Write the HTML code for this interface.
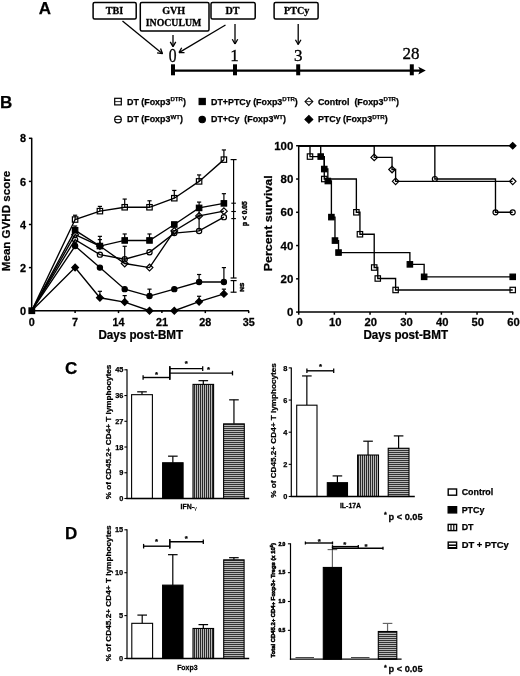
<!DOCTYPE html>
<html lang="en">
<head>
<meta charset="utf-8">
<title>Figure</title>
<style>
html,body{margin:0;padding:0;background:#fff;}
body{width:520px;height:676px;overflow:hidden;}
svg{display:block;}
text{fill:#000;}
.ss{font-family:"Liberation Sans",Arial,Helvetica,sans-serif;}
.sr{font-family:"Liberation Serif","Times New Roman",serif;}
</style>
</head>
<body>
<svg width="520" height="676" viewBox="0 0 520 676">
<defs>
<pattern id="vs" width="2" height="4" patternUnits="userSpaceOnUse"><rect width="2" height="4" fill="#b8b8b8"/><rect x="0" y="0" width="1" height="4" fill="#2a2a2a"/></pattern>
<pattern id="hs" width="4" height="2" patternUnits="userSpaceOnUse"><rect width="4" height="2" fill="#b6b6b6"/><rect x="0" y="0" width="4" height="1" fill="#333"/></pattern>
</defs>
<rect width="520" height="676" fill="#fff"/>
<text class="ss" transform="translate(38.7 13.7)" font-size="17" font-weight="bold" text-anchor="start" stroke="#000" stroke-width="0.25">A</text>
<text class="ss" transform="translate(0 108)" font-size="17" font-weight="bold" text-anchor="start" stroke="#000" stroke-width="0.25">B</text>
<text class="ss" transform="translate(65 374)" font-size="17" font-weight="bold" text-anchor="start" stroke="#000" stroke-width="0.25">C</text>
<text class="ss" transform="translate(65 539)" font-size="17" font-weight="bold" text-anchor="start" stroke="#000" stroke-width="0.25">D</text>
<rect x="93.1" y="2.6" width="43.099999999999994" height="16.5" rx="1.5" ry="1.5" fill="#fff" stroke="#000" stroke-width="1.5"/>
<rect x="140.3" y="2.6" width="68.69999999999999" height="28.4" rx="1.5" ry="1.5" fill="#fff" stroke="#000" stroke-width="1.5"/>
<rect x="211" y="2.6" width="44.19999999999999" height="16.5" rx="1.5" ry="1.5" fill="#fff" stroke="#000" stroke-width="1.5"/>
<rect x="274.1" y="2.6" width="44.0" height="16.5" rx="1.5" ry="1.5" fill="#fff" stroke="#000" stroke-width="1.5"/>
<text class="sr" transform="translate(114.5 14.2)" font-size="10.1" font-weight="bold" text-anchor="middle" stroke="#000" stroke-width="0.3">TBI</text>
<text class="sr" transform="translate(173.7 13.8)" font-size="10.1" font-weight="bold" text-anchor="middle" stroke="#000" stroke-width="0.3">GVH</text>
<text class="sr" transform="translate(173.5 26.3)" font-size="9.8" font-weight="bold" text-anchor="middle" stroke="#000" stroke-width="0.3">INOCULUM</text>
<text class="sr" transform="translate(232.5 14.2)" font-size="10.1" font-weight="bold" text-anchor="middle" stroke="#000" stroke-width="0.3">DT</text>
<text class="sr" transform="translate(296.7 14.2)" font-size="10.1" font-weight="bold" text-anchor="middle" stroke="#000" stroke-width="0.3">PTCy</text>
<line x1="122.50" y1="21.00" x2="162.50" y2="53.70" stroke="#000" stroke-width="1.3"/>
<line x1="162.50" y1="53.70" x2="157.07" y2="52.81" stroke="#000" stroke-width="1.3"/>
<line x1="162.50" y1="53.70" x2="160.55" y2="48.56" stroke="#000" stroke-width="1.3"/>
<line x1="173.00" y1="35.00" x2="173.00" y2="46.60" stroke="#000" stroke-width="1.3"/>
<line x1="173.00" y1="46.60" x2="170.25" y2="41.84" stroke="#000" stroke-width="1.3"/>
<line x1="173.00" y1="46.60" x2="175.75" y2="41.84" stroke="#000" stroke-width="1.3"/>
<line x1="225.50" y1="25.00" x2="179.00" y2="52.60" stroke="#000" stroke-width="1.3"/>
<line x1="179.00" y1="52.60" x2="181.69" y2="47.80" stroke="#000" stroke-width="1.3"/>
<line x1="179.00" y1="52.60" x2="184.50" y2="52.53" stroke="#000" stroke-width="1.3"/>
<line x1="235.00" y1="24.00" x2="235.00" y2="44.00" stroke="#000" stroke-width="1.3"/>
<line x1="235.00" y1="44.00" x2="232.25" y2="39.24" stroke="#000" stroke-width="1.3"/>
<line x1="235.00" y1="44.00" x2="237.75" y2="39.24" stroke="#000" stroke-width="1.3"/>
<line x1="298.20" y1="24.00" x2="298.20" y2="44.50" stroke="#000" stroke-width="1.3"/>
<line x1="298.20" y1="44.50" x2="295.45" y2="39.74" stroke="#000" stroke-width="1.3"/>
<line x1="298.20" y1="44.50" x2="300.95" y2="39.74" stroke="#000" stroke-width="1.3"/>
<text class="sr" transform="translate(172.6 61.5) scale(0.8 1)" font-size="19.5" font-weight="normal" text-anchor="middle" stroke="#000" stroke-width="0.35">0</text>
<text class="sr" transform="translate(234.6 61)" font-size="17" font-weight="normal" text-anchor="middle" stroke="#000" stroke-width="0.35">1</text>
<text class="sr" transform="translate(298.2 61)" font-size="17" font-weight="normal" text-anchor="middle" stroke="#000" stroke-width="0.35">3</text>
<text class="sr" transform="translate(411 59)" font-size="17" font-weight="normal" text-anchor="middle" stroke="#000" stroke-width="0.35">28</text>
<line x1="173.00" y1="70.60" x2="421.00" y2="70.60" stroke="#000" stroke-width="2.3"/>
<rect x="171.00" y="64.3" width="4" height="11" fill="#000"/>
<rect x="233.00" y="64.3" width="4" height="11" fill="#000"/>
<rect x="296.20" y="64.3" width="4" height="11" fill="#000"/>
<rect x="409.80" y="64.3" width="4" height="11" fill="#000"/>
<polygon points="425.8,70.6 418.3,66.8 420,70.6 418.3,74.4" fill="#000"/>
<rect x="114.70" y="98.30" width="6.60" height="6.60" fill="#fff" stroke="#000" stroke-width="1.2"/>
<line x1="114.70" y1="101.60" x2="121.30" y2="101.60" stroke="#000" stroke-width="0.8"/>
<text class="ss" transform="translate(127 104.7)" font-size="8.9" font-weight="bold" text-anchor="start" stroke="#000" stroke-width="0.25">DT (Foxp3<tspan font-size="6.1" dy="-3.3">DTR</tspan><tspan dy="3.3">)</tspan></text>
<rect x="199.10" y="98.40" width="6.20" height="6.20" fill="#000" stroke="#000" stroke-width="1.1"/>
<text class="ss" transform="translate(211 104.7)" font-size="8.9" font-weight="bold" text-anchor="start" stroke="#000" stroke-width="0.25">DT+PTCy (Foxp3<tspan font-size="6.1" dy="-3.3">DTR</tspan><tspan dy="3.3">)</tspan></text>
<polygon points="305.00,101.60 308.90,97.70 312.80,101.60 308.90,105.50" fill="#fff" stroke="#000" stroke-width="1.1"/>
<line x1="305.00" y1="101.60" x2="312.80" y2="101.60" stroke="#000" stroke-width="0.8"/>
<text class="ss" transform="translate(317.9 104.7)" font-size="8.9" font-weight="bold" text-anchor="start" stroke="#000" stroke-width="0.25">Control&#160;&#160;(Foxp3<tspan font-size="6.1" dy="-3.3">DTR</tspan><tspan dy="3.3">)</tspan></text>
<circle cx="118.00" cy="119.50" r="3.30" fill="#fff" stroke="#000" stroke-width="1.2"/>
<line x1="114.70" y1="119.50" x2="121.30" y2="119.50" stroke="#000" stroke-width="0.8"/>
<text class="ss" transform="translate(127 122.3)" font-size="8.9" font-weight="bold" text-anchor="start" stroke="#000" stroke-width="0.25">DT (Foxp3<tspan font-size="6.1" dy="-3.3">WT</tspan><tspan dy="3.3">)</tspan></text>
<circle cx="202.20" cy="119.60" r="3.20" fill="#000" stroke="#000" stroke-width="1.1"/>
<text class="ss" transform="translate(211 122.3)" font-size="8.9" font-weight="bold" text-anchor="start" stroke="#000" stroke-width="0.25">DT+Cy&#160;&#160;(Foxp3<tspan font-size="6.1" dy="-3.3">WT</tspan><tspan dy="3.3">)</tspan></text>
<polygon points="305.00,119.40 308.90,115.50 312.80,119.40 308.90,123.30" fill="#000" stroke="#000" stroke-width="1.1"/>
<text class="ss" transform="translate(317.9 122.3)" font-size="8.9" font-weight="bold" text-anchor="start" stroke="#000" stroke-width="0.25">PTCy (Foxp3<tspan font-size="6.1" dy="-3.3">DTR</tspan><tspan dy="3.3">)</tspan></text>
<line x1="31.70" y1="137.80" x2="31.70" y2="311.40" stroke="#000" stroke-width="1.5"/>
<line x1="31.00" y1="310.70" x2="249.00" y2="310.70" stroke="#000" stroke-width="1.5"/>
<line x1="28.90" y1="310.70" x2="31.70" y2="310.70" stroke="#000" stroke-width="1.5"/>
<text class="ss" transform="translate(26.1 314.8) scale(1.05 1)" font-size="10.4" font-weight="bold" text-anchor="end" stroke="#000" stroke-width="0.25">0</text>
<line x1="28.90" y1="267.60" x2="31.70" y2="267.60" stroke="#000" stroke-width="1.5"/>
<text class="ss" transform="translate(26.1 271.7) scale(1.05 1)" font-size="10.4" font-weight="bold" text-anchor="end" stroke="#000" stroke-width="0.25">2</text>
<line x1="28.90" y1="224.50" x2="31.70" y2="224.50" stroke="#000" stroke-width="1.5"/>
<text class="ss" transform="translate(26.1 228.6) scale(1.05 1)" font-size="10.4" font-weight="bold" text-anchor="end" stroke="#000" stroke-width="0.25">4</text>
<line x1="28.90" y1="181.40" x2="31.70" y2="181.40" stroke="#000" stroke-width="1.5"/>
<text class="ss" transform="translate(26.1 185.49999999999997) scale(1.05 1)" font-size="10.4" font-weight="bold" text-anchor="end" stroke="#000" stroke-width="0.25">6</text>
<line x1="28.90" y1="138.30" x2="31.70" y2="138.30" stroke="#000" stroke-width="1.5"/>
<text class="ss" transform="translate(26.1 142.39999999999998) scale(1.05 1)" font-size="10.4" font-weight="bold" text-anchor="end" stroke="#000" stroke-width="0.25">8</text>
<line x1="31.70" y1="310.70" x2="31.70" y2="313.10" stroke="#000" stroke-width="1.5"/>
<text class="ss" transform="translate(31.7 326.3) scale(1.04 1)" font-size="10.4" font-weight="bold" text-anchor="middle" stroke="#000" stroke-width="0.25">0</text>
<line x1="75.10" y1="310.70" x2="75.10" y2="313.10" stroke="#000" stroke-width="1.5"/>
<text class="ss" transform="translate(75.1 326.3) scale(1.04 1)" font-size="10.4" font-weight="bold" text-anchor="middle" stroke="#000" stroke-width="0.25">7</text>
<line x1="118.50" y1="310.70" x2="118.50" y2="313.10" stroke="#000" stroke-width="1.5"/>
<text class="ss" transform="translate(118.5 326.3) scale(1.04 1)" font-size="10.4" font-weight="bold" text-anchor="middle" stroke="#000" stroke-width="0.25">14</text>
<line x1="161.90" y1="310.70" x2="161.90" y2="313.10" stroke="#000" stroke-width="1.5"/>
<text class="ss" transform="translate(161.9 326.3) scale(1.04 1)" font-size="10.4" font-weight="bold" text-anchor="middle" stroke="#000" stroke-width="0.25">21</text>
<line x1="205.30" y1="310.70" x2="205.30" y2="313.10" stroke="#000" stroke-width="1.5"/>
<text class="ss" transform="translate(205.29999999999998 326.3) scale(1.04 1)" font-size="10.4" font-weight="bold" text-anchor="middle" stroke="#000" stroke-width="0.25">28</text>
<line x1="248.70" y1="310.70" x2="248.70" y2="313.10" stroke="#000" stroke-width="1.5"/>
<text class="ss" transform="translate(248.7 326.3) scale(1.04 1)" font-size="10.4" font-weight="bold" text-anchor="middle" stroke="#000" stroke-width="0.25">35</text>
<text class="ss" transform="translate(140.8 338.7) scale(0.97 1)" font-size="12" font-weight="bold" text-anchor="middle" stroke="#000" stroke-width="0.25">Days post-BMT</text>
<text class="ss" transform="translate(10 221) rotate(-90) scale(1.025 1)" font-size="11.3" font-weight="bold" text-anchor="middle" stroke="#000" stroke-width="0.25">Mean GVHD score</text>
<polyline points="31.70,310.70 75.10,267.60 99.90,297.77 124.70,302.08 149.50,310.70 174.30,310.70 199.10,301.65 223.90,293.89" fill="none" stroke="#000" stroke-width="1.35"/>
<polyline points="31.70,310.70 75.10,246.05 99.90,267.60 124.70,289.15 149.50,296.05 174.30,289.15 199.10,282.04 223.90,282.04" fill="none" stroke="#000" stroke-width="1.35"/>
<polyline points="31.70,310.70 75.10,239.58 99.90,254.67 124.70,259.20 149.50,252.30 174.30,233.12 199.10,230.96 223.90,217.17" fill="none" stroke="#000" stroke-width="1.35"/>
<polyline points="31.70,310.70 75.10,234.63 99.90,246.05 124.70,263.51 149.50,267.60 174.30,230.96 199.10,215.88 223.90,211.14" fill="none" stroke="#000" stroke-width="1.35"/>
<polyline points="31.70,310.70 75.10,230.32 99.90,246.05 124.70,240.45 149.50,240.45 174.30,224.50 199.10,207.91 223.90,203.38" fill="none" stroke="#000" stroke-width="1.35"/>
<polyline points="31.70,310.70 75.10,219.54 99.90,211.14 124.70,207.26 149.50,207.26 174.30,198.21 199.10,181.40 223.90,159.63" fill="none" stroke="#000" stroke-width="1.35"/>
<line x1="99.90" y1="297.77" x2="99.90" y2="291.31" stroke="#000" stroke-width="1.2"/>
<line x1="97.80" y1="291.31" x2="102.00" y2="291.31" stroke="#000" stroke-width="1.2"/>
<line x1="124.70" y1="302.08" x2="124.70" y2="295.62" stroke="#000" stroke-width="1.2"/>
<line x1="122.60" y1="295.62" x2="126.80" y2="295.62" stroke="#000" stroke-width="1.2"/>
<line x1="199.10" y1="301.65" x2="199.10" y2="296.26" stroke="#000" stroke-width="1.2"/>
<line x1="197.00" y1="296.26" x2="201.20" y2="296.26" stroke="#000" stroke-width="1.2"/>
<line x1="223.90" y1="293.89" x2="223.90" y2="289.15" stroke="#000" stroke-width="1.2"/>
<line x1="221.80" y1="289.15" x2="226.00" y2="289.15" stroke="#000" stroke-width="1.2"/>
<polygon points="71.72,267.60 75.10,264.22 78.48,267.60 75.10,270.98" fill="#000" stroke="#000" stroke-width="1.2"/>
<polygon points="96.52,297.77 99.90,294.39 103.28,297.77 99.90,301.15" fill="#000" stroke="#000" stroke-width="1.2"/>
<polygon points="121.32,302.08 124.70,298.70 128.08,302.08 124.70,305.46" fill="#000" stroke="#000" stroke-width="1.2"/>
<polygon points="146.12,310.70 149.50,307.32 152.88,310.70 149.50,314.08" fill="#000" stroke="#000" stroke-width="1.2"/>
<polygon points="170.92,310.70 174.30,307.32 177.68,310.70 174.30,314.08" fill="#000" stroke="#000" stroke-width="1.2"/>
<polygon points="195.72,301.65 199.10,298.27 202.48,301.65 199.10,305.03" fill="#000" stroke="#000" stroke-width="1.2"/>
<polygon points="220.52,293.89 223.90,290.51 227.28,293.89 223.90,297.27" fill="#000" stroke="#000" stroke-width="1.2"/>
<line x1="75.10" y1="246.05" x2="75.10" y2="242.82" stroke="#000" stroke-width="1.2"/>
<line x1="73.00" y1="242.82" x2="77.20" y2="242.82" stroke="#000" stroke-width="1.2"/>
<line x1="149.50" y1="296.05" x2="149.50" y2="289.15" stroke="#000" stroke-width="1.2"/>
<line x1="147.40" y1="289.15" x2="151.60" y2="289.15" stroke="#000" stroke-width="1.2"/>
<line x1="199.10" y1="282.04" x2="199.10" y2="274.50" stroke="#000" stroke-width="1.2"/>
<line x1="197.00" y1="274.50" x2="201.20" y2="274.50" stroke="#000" stroke-width="1.2"/>
<line x1="223.90" y1="282.04" x2="223.90" y2="267.60" stroke="#000" stroke-width="1.2"/>
<line x1="221.80" y1="267.60" x2="226.00" y2="267.60" stroke="#000" stroke-width="1.2"/>
<circle cx="75.10" cy="246.05" r="2.60" fill="#000" stroke="#000" stroke-width="1.2"/>
<circle cx="99.90" cy="267.60" r="2.60" fill="#000" stroke="#000" stroke-width="1.2"/>
<circle cx="124.70" cy="289.15" r="2.60" fill="#000" stroke="#000" stroke-width="1.2"/>
<circle cx="149.50" cy="296.05" r="2.60" fill="#000" stroke="#000" stroke-width="1.2"/>
<circle cx="174.30" cy="289.15" r="2.60" fill="#000" stroke="#000" stroke-width="1.2"/>
<circle cx="199.10" cy="282.04" r="2.60" fill="#000" stroke="#000" stroke-width="1.2"/>
<circle cx="223.90" cy="282.04" r="2.60" fill="#000" stroke="#000" stroke-width="1.2"/>
<line x1="124.70" y1="259.20" x2="124.70" y2="246.27" stroke="#000" stroke-width="1.2"/>
<line x1="122.60" y1="246.27" x2="126.80" y2="246.27" stroke="#000" stroke-width="1.2"/>
<line x1="199.10" y1="230.96" x2="199.10" y2="215.88" stroke="#000" stroke-width="1.2"/>
<line x1="197.00" y1="215.88" x2="201.20" y2="215.88" stroke="#000" stroke-width="1.2"/>
<circle cx="75.10" cy="239.58" r="2.60" fill="none" stroke="#000" stroke-width="1.2"/>
<circle cx="99.90" cy="254.67" r="2.60" fill="none" stroke="#000" stroke-width="1.2"/>
<circle cx="124.70" cy="259.20" r="2.60" fill="none" stroke="#000" stroke-width="1.2"/>
<circle cx="149.50" cy="252.30" r="2.60" fill="none" stroke="#000" stroke-width="1.2"/>
<circle cx="174.30" cy="233.12" r="2.60" fill="none" stroke="#000" stroke-width="1.2"/>
<circle cx="199.10" cy="230.96" r="2.60" fill="none" stroke="#000" stroke-width="1.2"/>
<circle cx="223.90" cy="217.17" r="2.60" fill="none" stroke="#000" stroke-width="1.2"/>
<line x1="99.90" y1="246.05" x2="99.90" y2="239.58" stroke="#000" stroke-width="1.2"/>
<line x1="97.80" y1="239.58" x2="102.00" y2="239.58" stroke="#000" stroke-width="1.2"/>
<line x1="199.10" y1="215.88" x2="199.10" y2="209.41" stroke="#000" stroke-width="1.2"/>
<line x1="197.00" y1="209.41" x2="201.20" y2="209.41" stroke="#000" stroke-width="1.2"/>
<polygon points="71.72,234.63 75.10,231.25 78.48,234.63 75.10,238.01" fill="none" stroke="#000" stroke-width="1.2"/>
<polygon points="96.52,246.05 99.90,242.67 103.28,246.05 99.90,249.43" fill="none" stroke="#000" stroke-width="1.2"/>
<polygon points="121.32,263.51 124.70,260.13 128.08,263.51 124.70,266.89" fill="none" stroke="#000" stroke-width="1.2"/>
<polygon points="146.12,267.60 149.50,264.22 152.88,267.60 149.50,270.98" fill="none" stroke="#000" stroke-width="1.2"/>
<polygon points="170.92,230.96 174.30,227.58 177.68,230.96 174.30,234.34" fill="none" stroke="#000" stroke-width="1.2"/>
<polygon points="195.72,215.88 199.10,212.50 202.48,215.88 199.10,219.26" fill="none" stroke="#000" stroke-width="1.2"/>
<polygon points="220.52,211.14 223.90,207.76 227.28,211.14 223.90,214.52" fill="none" stroke="#000" stroke-width="1.2"/>
<line x1="75.10" y1="230.32" x2="75.10" y2="226.01" stroke="#000" stroke-width="1.2"/>
<line x1="73.00" y1="226.01" x2="77.20" y2="226.01" stroke="#000" stroke-width="1.2"/>
<line x1="99.90" y1="246.05" x2="99.90" y2="236.35" stroke="#000" stroke-width="1.2"/>
<line x1="97.80" y1="236.35" x2="102.00" y2="236.35" stroke="#000" stroke-width="1.2"/>
<line x1="124.70" y1="240.45" x2="124.70" y2="233.98" stroke="#000" stroke-width="1.2"/>
<line x1="122.60" y1="233.98" x2="126.80" y2="233.98" stroke="#000" stroke-width="1.2"/>
<line x1="149.50" y1="240.45" x2="149.50" y2="233.98" stroke="#000" stroke-width="1.2"/>
<line x1="147.40" y1="233.98" x2="151.60" y2="233.98" stroke="#000" stroke-width="1.2"/>
<line x1="199.10" y1="207.91" x2="199.10" y2="202.09" stroke="#000" stroke-width="1.2"/>
<line x1="197.00" y1="202.09" x2="201.20" y2="202.09" stroke="#000" stroke-width="1.2"/>
<line x1="223.90" y1="203.38" x2="223.90" y2="193.68" stroke="#000" stroke-width="1.2"/>
<line x1="221.80" y1="193.68" x2="226.00" y2="193.68" stroke="#000" stroke-width="1.2"/>
<rect x="72.40" y="227.62" width="5.40" height="5.40" fill="#000" stroke="#000" stroke-width="1.2"/>
<rect x="97.20" y="243.35" width="5.40" height="5.40" fill="#000" stroke="#000" stroke-width="1.2"/>
<rect x="122.00" y="237.75" width="5.40" height="5.40" fill="#000" stroke="#000" stroke-width="1.2"/>
<rect x="146.80" y="237.75" width="5.40" height="5.40" fill="#000" stroke="#000" stroke-width="1.2"/>
<rect x="171.60" y="221.80" width="5.40" height="5.40" fill="#000" stroke="#000" stroke-width="1.2"/>
<rect x="196.40" y="205.21" width="5.40" height="5.40" fill="#000" stroke="#000" stroke-width="1.2"/>
<rect x="221.20" y="200.68" width="5.40" height="5.40" fill="#000" stroke="#000" stroke-width="1.2"/>
<line x1="75.10" y1="219.54" x2="75.10" y2="215.23" stroke="#000" stroke-width="1.2"/>
<line x1="73.00" y1="215.23" x2="77.20" y2="215.23" stroke="#000" stroke-width="1.2"/>
<line x1="99.90" y1="211.14" x2="99.90" y2="206.40" stroke="#000" stroke-width="1.2"/>
<line x1="97.80" y1="206.40" x2="102.00" y2="206.40" stroke="#000" stroke-width="1.2"/>
<line x1="124.70" y1="207.26" x2="124.70" y2="199.07" stroke="#000" stroke-width="1.2"/>
<line x1="122.60" y1="199.07" x2="126.80" y2="199.07" stroke="#000" stroke-width="1.2"/>
<line x1="149.50" y1="207.26" x2="149.50" y2="200.79" stroke="#000" stroke-width="1.2"/>
<line x1="147.40" y1="200.79" x2="151.60" y2="200.79" stroke="#000" stroke-width="1.2"/>
<line x1="174.30" y1="198.21" x2="174.30" y2="190.45" stroke="#000" stroke-width="1.2"/>
<line x1="172.20" y1="190.45" x2="176.40" y2="190.45" stroke="#000" stroke-width="1.2"/>
<line x1="199.10" y1="181.40" x2="199.10" y2="174.93" stroke="#000" stroke-width="1.2"/>
<line x1="197.00" y1="174.93" x2="201.20" y2="174.93" stroke="#000" stroke-width="1.2"/>
<line x1="223.90" y1="159.63" x2="223.90" y2="149.94" stroke="#000" stroke-width="1.2"/>
<line x1="221.80" y1="149.94" x2="226.00" y2="149.94" stroke="#000" stroke-width="1.2"/>
<rect x="72.40" y="216.84" width="5.40" height="5.40" fill="none" stroke="#000" stroke-width="1.2"/>
<rect x="97.20" y="208.44" width="5.40" height="5.40" fill="none" stroke="#000" stroke-width="1.2"/>
<rect x="122.00" y="204.56" width="5.40" height="5.40" fill="none" stroke="#000" stroke-width="1.2"/>
<rect x="146.80" y="204.56" width="5.40" height="5.40" fill="none" stroke="#000" stroke-width="1.2"/>
<rect x="171.60" y="195.51" width="5.40" height="5.40" fill="none" stroke="#000" stroke-width="1.2"/>
<rect x="196.40" y="178.70" width="5.40" height="5.40" fill="none" stroke="#000" stroke-width="1.2"/>
<rect x="221.20" y="156.93" width="5.40" height="5.40" fill="none" stroke="#000" stroke-width="1.2"/>
<rect x="28.40" y="307.30" width="6.8" height="6.8" fill="#000"/>
<line x1="233.60" y1="159.60" x2="233.60" y2="278.00" stroke="#000" stroke-width="1.2"/>
<line x1="230.60" y1="159.60" x2="236.60" y2="159.60" stroke="#000" stroke-width="1.2"/>
<line x1="230.60" y1="278.00" x2="236.60" y2="278.00" stroke="#000" stroke-width="1.2"/>
<line x1="231.30" y1="203.20" x2="235.90" y2="203.20" stroke="#000" stroke-width="1.1"/>
<line x1="231.30" y1="211.50" x2="235.90" y2="211.50" stroke="#000" stroke-width="1.1"/>
<line x1="231.30" y1="218.60" x2="235.90" y2="218.60" stroke="#000" stroke-width="1.1"/>
<line x1="233.60" y1="280.60" x2="233.60" y2="292.20" stroke="#000" stroke-width="1.2"/>
<line x1="230.60" y1="280.60" x2="236.60" y2="280.60" stroke="#000" stroke-width="1.2"/>
<line x1="230.60" y1="292.20" x2="236.60" y2="292.20" stroke="#000" stroke-width="1.2"/>
<text class="ss" transform="translate(246.5 213.6) rotate(-90) scale(1.03 1)" font-size="6.5" font-weight="bold" text-anchor="middle" stroke="#000" stroke-width="0.45">p &lt; 0.05</text>
<text class="ss" transform="translate(243.8 287.2) rotate(-90) scale(1.05 1)" font-size="6.2" font-weight="bold" text-anchor="middle" stroke="#000" stroke-width="0.45">NS</text>
<line x1="298.70" y1="145.25" x2="298.70" y2="312.80" stroke="#000" stroke-width="1.5"/>
<line x1="298.00" y1="312.10" x2="513.22" y2="312.10" stroke="#000" stroke-width="1.5"/>
<line x1="296.10" y1="312.10" x2="298.70" y2="312.10" stroke="#000" stroke-width="1.5"/>
<text class="ss" transform="translate(293.3 316.1) scale(1.04 1)" font-size="11" font-weight="bold" text-anchor="end" stroke="#000" stroke-width="0.25">0</text>
<line x1="296.10" y1="278.83" x2="298.70" y2="278.83" stroke="#000" stroke-width="1.5"/>
<text class="ss" transform="translate(293.3 282.83000000000004) scale(1.04 1)" font-size="11" font-weight="bold" text-anchor="end" stroke="#000" stroke-width="0.25">20</text>
<line x1="296.10" y1="245.56" x2="298.70" y2="245.56" stroke="#000" stroke-width="1.5"/>
<text class="ss" transform="translate(293.3 249.56000000000003) scale(1.04 1)" font-size="11" font-weight="bold" text-anchor="end" stroke="#000" stroke-width="0.25">40</text>
<line x1="296.10" y1="212.29" x2="298.70" y2="212.29" stroke="#000" stroke-width="1.5"/>
<text class="ss" transform="translate(293.3 216.29000000000002) scale(1.04 1)" font-size="11" font-weight="bold" text-anchor="end" stroke="#000" stroke-width="0.25">60</text>
<line x1="296.10" y1="179.02" x2="298.70" y2="179.02" stroke="#000" stroke-width="1.5"/>
<text class="ss" transform="translate(293.3 183.02000000000004) scale(1.04 1)" font-size="11" font-weight="bold" text-anchor="end" stroke="#000" stroke-width="0.25">80</text>
<line x1="296.10" y1="145.75" x2="298.70" y2="145.75" stroke="#000" stroke-width="1.5"/>
<text class="ss" transform="translate(293.3 149.75000000000003) scale(1.04 1)" font-size="11" font-weight="bold" text-anchor="end" stroke="#000" stroke-width="0.25">100</text>
<line x1="298.70" y1="312.10" x2="298.70" y2="314.70" stroke="#000" stroke-width="1.5"/>
<text class="ss" transform="translate(299.5 326.20000000000005) scale(1.02 1)" font-size="11" font-weight="bold" text-anchor="middle" stroke="#000" stroke-width="0.25">0</text>
<line x1="334.37" y1="312.10" x2="334.37" y2="314.70" stroke="#000" stroke-width="1.5"/>
<text class="ss" transform="translate(335.17 326.20000000000005) scale(1.02 1)" font-size="11" font-weight="bold" text-anchor="middle" stroke="#000" stroke-width="0.25">10</text>
<line x1="370.04" y1="312.10" x2="370.04" y2="314.70" stroke="#000" stroke-width="1.5"/>
<text class="ss" transform="translate(370.84 326.20000000000005) scale(1.02 1)" font-size="11" font-weight="bold" text-anchor="middle" stroke="#000" stroke-width="0.25">20</text>
<line x1="405.71" y1="312.10" x2="405.71" y2="314.70" stroke="#000" stroke-width="1.5"/>
<text class="ss" transform="translate(406.51 326.20000000000005) scale(1.02 1)" font-size="11" font-weight="bold" text-anchor="middle" stroke="#000" stroke-width="0.25">30</text>
<line x1="441.38" y1="312.10" x2="441.38" y2="314.70" stroke="#000" stroke-width="1.5"/>
<text class="ss" transform="translate(442.18 326.20000000000005) scale(1.02 1)" font-size="11" font-weight="bold" text-anchor="middle" stroke="#000" stroke-width="0.25">40</text>
<line x1="477.05" y1="312.10" x2="477.05" y2="314.70" stroke="#000" stroke-width="1.5"/>
<text class="ss" transform="translate(477.85 326.20000000000005) scale(1.02 1)" font-size="11" font-weight="bold" text-anchor="middle" stroke="#000" stroke-width="0.25">50</text>
<line x1="512.72" y1="312.10" x2="512.72" y2="314.70" stroke="#000" stroke-width="1.5"/>
<text class="ss" transform="translate(513.52 326.20000000000005) scale(1.02 1)" font-size="11" font-weight="bold" text-anchor="middle" stroke="#000" stroke-width="0.25">60</text>
<text class="ss" transform="translate(405.7 339) scale(0.97 1)" font-size="12" font-weight="bold" text-anchor="middle" stroke="#000" stroke-width="0.25">Days post-BMT</text>
<text class="ss" transform="translate(272 223.3) rotate(-90) scale(1.1 1)" font-size="11.3" font-weight="bold" text-anchor="middle" stroke="#000" stroke-width="0.25">Percent survival</text>
<polyline points="298.70,145.75 512.72,145.75" fill="none" stroke="#000" stroke-width="1.35"/>
<polygon points="509.47,145.75 512.72,142.50 515.97,145.75 512.72,149.00" fill="#000" stroke="#000" stroke-width="1.2"/>
<polyline points="298.70,145.75 434.85,145.75 434.85,179.02 495.49,179.02 495.49,212.29 512.72,212.29" fill="none" stroke="#000" stroke-width="1.35"/>
<circle cx="434.85" cy="179.02" r="2.50" fill="none" stroke="#000" stroke-width="1.2"/>
<circle cx="495.49" cy="212.29" r="2.50" fill="none" stroke="#000" stroke-width="1.2"/>
<circle cx="512.72" cy="212.29" r="2.50" fill="none" stroke="#000" stroke-width="1.2"/>
<polyline points="298.70,145.75 374.21,145.75 374.21,157.39 392.04,157.39 392.04,169.54 395.61,169.54 395.61,181.35 512.72,181.35" fill="none" stroke="#000" stroke-width="1.35"/>
<polygon points="370.96,157.39 374.21,154.14 377.46,157.39 374.21,160.64" fill="none" stroke="#000" stroke-width="1.2"/>
<polygon points="388.79,169.54 392.04,166.29 395.29,169.54 392.04,172.79" fill="none" stroke="#000" stroke-width="1.2"/>
<polygon points="392.36,181.35 395.61,178.10 398.86,181.35 395.61,184.60" fill="none" stroke="#000" stroke-width="1.2"/>
<polygon points="509.47,181.35 512.72,178.10 515.97,181.35 512.72,184.60" fill="none" stroke="#000" stroke-width="1.2"/>
<polyline points="298.70,145.75 310.00,145.75 310.00,156.56 324.27,156.56 324.27,179.02 356.37,179.02 356.37,212.29 359.94,212.29 359.94,234.25 374.21,234.25 374.21,267.52 377.77,267.52 377.77,278.50 395.61,278.50 395.61,289.98 512.72,289.98" fill="none" stroke="#000" stroke-width="1.35"/>
<rect x="307.30" y="153.86" width="5.40" height="5.40" fill="none" stroke="#000" stroke-width="1.2"/>
<rect x="321.57" y="176.32" width="5.40" height="5.40" fill="none" stroke="#000" stroke-width="1.2"/>
<rect x="353.67" y="209.59" width="5.40" height="5.40" fill="none" stroke="#000" stroke-width="1.2"/>
<rect x="357.24" y="231.55" width="5.40" height="5.40" fill="none" stroke="#000" stroke-width="1.2"/>
<rect x="371.51" y="264.82" width="5.40" height="5.40" fill="none" stroke="#000" stroke-width="1.2"/>
<rect x="375.07" y="275.80" width="5.40" height="5.40" fill="none" stroke="#000" stroke-width="1.2"/>
<rect x="392.91" y="287.28" width="5.40" height="5.40" fill="none" stroke="#000" stroke-width="1.2"/>
<rect x="510.02" y="287.28" width="5.40" height="5.40" fill="none" stroke="#000" stroke-width="1.2"/>
<polyline points="298.70,145.75 320.70,145.75 320.70,156.56 324.27,156.56 324.27,169.04 327.84,169.04 327.84,181.02 331.40,181.02 331.40,217.11 334.97,217.11 334.97,240.57 338.54,240.57 338.54,252.55 409.88,252.55 409.88,264.36 424.14,264.36 424.14,276.83 512.72,276.83" fill="none" stroke="#000" stroke-width="1.35"/>
<rect x="318.00" y="153.86" width="5.40" height="5.40" fill="#000" stroke="#000" stroke-width="1.2"/>
<rect x="321.57" y="166.34" width="5.40" height="5.40" fill="#000" stroke="#000" stroke-width="1.2"/>
<rect x="325.14" y="178.32" width="5.40" height="5.40" fill="#000" stroke="#000" stroke-width="1.2"/>
<rect x="328.70" y="214.41" width="5.40" height="5.40" fill="#000" stroke="#000" stroke-width="1.2"/>
<rect x="332.27" y="237.87" width="5.40" height="5.40" fill="#000" stroke="#000" stroke-width="1.2"/>
<rect x="335.84" y="249.85" width="5.40" height="5.40" fill="#000" stroke="#000" stroke-width="1.2"/>
<rect x="407.18" y="261.66" width="5.40" height="5.40" fill="#000" stroke="#000" stroke-width="1.2"/>
<rect x="421.44" y="274.13" width="5.40" height="5.40" fill="#000" stroke="#000" stroke-width="1.2"/>
<rect x="510.02" y="274.13" width="5.40" height="5.40" fill="#000" stroke="#000" stroke-width="1.2"/>
<line x1="142.00" y1="394.68" x2="142.00" y2="391.82" stroke="#000" stroke-width="1.2"/>
<line x1="137.20" y1="391.82" x2="146.80" y2="391.82" stroke="#000" stroke-width="1.2"/>
<rect x="131.60" y="394.68" width="20.80" height="103.82" fill="#fff" stroke="#000" stroke-width="1.1"/>
<line x1="172.85" y1="462.75" x2="172.85" y2="456.17" stroke="#000" stroke-width="1.2"/>
<line x1="168.05" y1="456.17" x2="177.65" y2="456.17" stroke="#000" stroke-width="1.2"/>
<rect x="162.60" y="462.75" width="20.50" height="35.75" fill="#000" stroke="#000" stroke-width="1.1"/>
<line x1="203.30" y1="384.39" x2="203.30" y2="380.67" stroke="#000" stroke-width="1.2"/>
<line x1="198.50" y1="380.67" x2="208.10" y2="380.67" stroke="#000" stroke-width="1.2"/>
<rect x="193.00" y="384.39" width="20.60" height="114.11" fill="url(#vs)" stroke="#000" stroke-width="1.1"/>
<line x1="233.95" y1="423.85" x2="233.95" y2="399.83" stroke="#000" stroke-width="1.2"/>
<line x1="229.15" y1="399.83" x2="238.75" y2="399.83" stroke="#000" stroke-width="1.2"/>
<rect x="223.60" y="423.85" width="20.70" height="74.65" fill="url(#hs)" stroke="#000" stroke-width="1.1"/>
<line x1="127.00" y1="369.30" x2="127.00" y2="499.10" stroke="#000" stroke-width="1.2"/>
<line x1="126.40" y1="498.50" x2="249.20" y2="498.50" stroke="#000" stroke-width="1.3"/>
<line x1="124.40" y1="498.50" x2="127.00" y2="498.50" stroke="#000" stroke-width="1.1"/>
<text class="ss" transform="translate(123.4 501.164)" font-size="7.4" font-weight="bold" text-anchor="end" stroke="#000" stroke-width="0.25">0</text>
<line x1="124.40" y1="472.76" x2="127.00" y2="472.76" stroke="#000" stroke-width="1.1"/>
<text class="ss" transform="translate(123.4 475.424)" font-size="7.4" font-weight="bold" text-anchor="end" stroke="#000" stroke-width="0.25">9</text>
<line x1="124.40" y1="447.02" x2="127.00" y2="447.02" stroke="#000" stroke-width="1.1"/>
<text class="ss" transform="translate(123.4 449.68399999999997)" font-size="7.4" font-weight="bold" text-anchor="end" stroke="#000" stroke-width="0.25">18</text>
<line x1="124.40" y1="421.28" x2="127.00" y2="421.28" stroke="#000" stroke-width="1.1"/>
<text class="ss" transform="translate(123.4 423.94399999999996)" font-size="7.4" font-weight="bold" text-anchor="end" stroke="#000" stroke-width="0.25">27</text>
<line x1="124.40" y1="395.54" x2="127.00" y2="395.54" stroke="#000" stroke-width="1.1"/>
<text class="ss" transform="translate(123.4 398.204)" font-size="7.4" font-weight="bold" text-anchor="end" stroke="#000" stroke-width="0.25">36</text>
<line x1="124.40" y1="369.80" x2="127.00" y2="369.80" stroke="#000" stroke-width="1.1"/>
<text class="ss" transform="translate(123.4 372.464)" font-size="7.4" font-weight="bold" text-anchor="end" stroke="#000" stroke-width="0.25">45</text>
<text class="ss" transform="translate(111.0 432) rotate(-90) scale(1.06 1)" font-size="7.7" font-weight="bold" text-anchor="middle" stroke="#000" stroke-width="0.25">% of CD45.2+ CD4+ T lymphocytes</text>
<text class="ss" transform="translate(188.8 509.2) scale(1.08 1)" font-size="6.4" font-weight="bold" text-anchor="middle" stroke="#000" stroke-width="0.25">IFN-<tspan font-weight="normal" font-size="5.6" dy="0.8" stroke="none">&#947;</tspan></text>
<line x1="143.10" y1="377.50" x2="169.80" y2="377.50" stroke="#000" stroke-width="1.4"/>
<line x1="143.10" y1="375.20" x2="143.10" y2="379.80" stroke="#000" stroke-width="1.3"/>
<line x1="169.80" y1="375.20" x2="169.80" y2="379.80" stroke="#000" stroke-width="1.3"/>
<text class="ss" transform="translate(156.5 377.4)" font-size="7.8" font-weight="bold" text-anchor="middle" stroke="#000" stroke-width="0.25">*</text>
<line x1="169.80" y1="368.60" x2="202.70" y2="368.60" stroke="#000" stroke-width="1.4"/>
<line x1="169.80" y1="366.30" x2="169.80" y2="370.90" stroke="#000" stroke-width="1.3"/>
<line x1="202.70" y1="366.30" x2="202.70" y2="370.90" stroke="#000" stroke-width="1.3"/>
<text class="ss" transform="translate(186.2 366.2)" font-size="7.8" font-weight="bold" text-anchor="middle" stroke="#000" stroke-width="0.25">*</text>
<line x1="169.80" y1="373.10" x2="232.50" y2="373.10" stroke="#000" stroke-width="1.4"/>
<line x1="169.80" y1="370.80" x2="169.80" y2="375.40" stroke="#000" stroke-width="1.3"/>
<line x1="232.50" y1="370.80" x2="232.50" y2="375.40" stroke="#000" stroke-width="1.3"/>
<text class="ss" transform="translate(208.6 372.3)" font-size="7.8" font-weight="bold" text-anchor="middle" stroke="#000" stroke-width="0.25">*</text>
<line x1="169.80" y1="366.30" x2="169.80" y2="379.80" stroke="#000" stroke-width="1.4"/>
<line x1="306.85" y1="405.19" x2="306.85" y2="375.94" stroke="#000" stroke-width="1.2"/>
<line x1="302.05" y1="375.94" x2="311.65" y2="375.94" stroke="#000" stroke-width="1.2"/>
<rect x="296.70" y="405.19" width="20.30" height="91.31" fill="#fff" stroke="#000" stroke-width="1.1"/>
<line x1="337.40" y1="482.68" x2="337.40" y2="475.92" stroke="#000" stroke-width="1.2"/>
<line x1="332.60" y1="475.92" x2="342.20" y2="475.92" stroke="#000" stroke-width="1.2"/>
<rect x="327.30" y="482.68" width="20.20" height="13.82" fill="#000" stroke="#000" stroke-width="1.1"/>
<line x1="368.05" y1="455.03" x2="368.05" y2="441.20" stroke="#000" stroke-width="1.2"/>
<line x1="363.25" y1="441.20" x2="372.85" y2="441.20" stroke="#000" stroke-width="1.2"/>
<rect x="357.60" y="455.03" width="20.90" height="41.47" fill="url(#vs)" stroke="#000" stroke-width="1.1"/>
<line x1="398.60" y1="448.27" x2="398.60" y2="435.90" stroke="#000" stroke-width="1.2"/>
<line x1="393.80" y1="435.90" x2="403.40" y2="435.90" stroke="#000" stroke-width="1.2"/>
<rect x="388.20" y="448.27" width="20.80" height="48.23" fill="url(#hs)" stroke="#000" stroke-width="1.1"/>
<line x1="291.30" y1="367.40" x2="291.30" y2="497.10" stroke="#000" stroke-width="1.2"/>
<line x1="290.70" y1="496.50" x2="414.80" y2="496.50" stroke="#000" stroke-width="1.3"/>
<line x1="288.70" y1="496.50" x2="291.30" y2="496.50" stroke="#000" stroke-width="1.1"/>
<text class="ss" transform="translate(287.4 499.164)" font-size="7.4" font-weight="bold" text-anchor="end" stroke="#000" stroke-width="0.25">0</text>
<line x1="288.70" y1="464.35" x2="291.30" y2="464.35" stroke="#000" stroke-width="1.1"/>
<text class="ss" transform="translate(287.4 467.014)" font-size="7.4" font-weight="bold" text-anchor="end" stroke="#000" stroke-width="0.25">2</text>
<line x1="288.70" y1="432.20" x2="291.30" y2="432.20" stroke="#000" stroke-width="1.1"/>
<text class="ss" transform="translate(287.4 434.864)" font-size="7.4" font-weight="bold" text-anchor="end" stroke="#000" stroke-width="0.25">4</text>
<line x1="288.70" y1="400.05" x2="291.30" y2="400.05" stroke="#000" stroke-width="1.1"/>
<text class="ss" transform="translate(287.4 402.71399999999994)" font-size="7.4" font-weight="bold" text-anchor="end" stroke="#000" stroke-width="0.25">6</text>
<line x1="288.70" y1="367.90" x2="291.30" y2="367.90" stroke="#000" stroke-width="1.1"/>
<text class="ss" transform="translate(287.4 370.56399999999996)" font-size="7.4" font-weight="bold" text-anchor="end" stroke="#000" stroke-width="0.25">8</text>
<text class="ss" transform="translate(276.0 430.5) rotate(-90) scale(1.06 1)" font-size="7.7" font-weight="bold" text-anchor="middle" stroke="#000" stroke-width="0.25">% of CD45.2+ CD4+ T lymphocytes</text>
<text class="ss" transform="translate(350.5 508.2) scale(1.08 1)" font-size="6.4" font-weight="bold" text-anchor="middle" stroke="#000" stroke-width="0.25">IL-17A</text>
<line x1="306.90" y1="370.80" x2="333.70" y2="370.80" stroke="#000" stroke-width="1.4"/>
<line x1="306.90" y1="368.50" x2="306.90" y2="373.10" stroke="#000" stroke-width="1.3"/>
<line x1="333.70" y1="368.50" x2="333.70" y2="373.10" stroke="#000" stroke-width="1.3"/>
<text class="ss" transform="translate(320.6 368.7)" font-size="7.8" font-weight="bold" text-anchor="middle" stroke="#000" stroke-width="0.25">*</text>
<line x1="142.20" y1="623.32" x2="142.20" y2="615.09" stroke="#000" stroke-width="1.2"/>
<line x1="137.40" y1="615.09" x2="147.00" y2="615.09" stroke="#000" stroke-width="1.2"/>
<rect x="131.80" y="623.32" width="20.80" height="35.18" fill="#fff" stroke="#000" stroke-width="1.1"/>
<line x1="172.80" y1="585.14" x2="172.80" y2="554.68" stroke="#000" stroke-width="1.2"/>
<line x1="168.00" y1="554.68" x2="177.60" y2="554.68" stroke="#000" stroke-width="1.2"/>
<rect x="162.60" y="585.14" width="20.40" height="73.36" fill="#000" stroke="#000" stroke-width="1.1"/>
<line x1="203.30" y1="628.47" x2="203.30" y2="624.61" stroke="#000" stroke-width="1.2"/>
<line x1="198.50" y1="624.61" x2="208.10" y2="624.61" stroke="#000" stroke-width="1.2"/>
<rect x="193.00" y="628.47" width="20.60" height="30.03" fill="url(#vs)" stroke="#000" stroke-width="1.1"/>
<line x1="233.90" y1="559.83" x2="233.90" y2="557.68" stroke="#000" stroke-width="1.2"/>
<line x1="229.10" y1="557.68" x2="238.70" y2="557.68" stroke="#000" stroke-width="1.2"/>
<rect x="223.70" y="559.83" width="20.40" height="98.67" fill="url(#hs)" stroke="#000" stroke-width="1.1"/>
<line x1="127.00" y1="529.30" x2="127.00" y2="659.10" stroke="#000" stroke-width="1.2"/>
<line x1="126.40" y1="658.50" x2="249.20" y2="658.50" stroke="#000" stroke-width="1.3"/>
<line x1="124.40" y1="658.50" x2="127.00" y2="658.50" stroke="#000" stroke-width="1.1"/>
<text class="ss" transform="translate(123.2 661.164)" font-size="7.4" font-weight="bold" text-anchor="end" stroke="#000" stroke-width="0.25">0</text>
<line x1="124.40" y1="615.60" x2="127.00" y2="615.60" stroke="#000" stroke-width="1.1"/>
<text class="ss" transform="translate(123.2 618.264)" font-size="7.4" font-weight="bold" text-anchor="end" stroke="#000" stroke-width="0.25">5</text>
<line x1="124.40" y1="572.70" x2="127.00" y2="572.70" stroke="#000" stroke-width="1.1"/>
<text class="ss" transform="translate(123.2 575.3639999999999)" font-size="7.4" font-weight="bold" text-anchor="end" stroke="#000" stroke-width="0.25">10</text>
<line x1="124.40" y1="529.80" x2="127.00" y2="529.80" stroke="#000" stroke-width="1.1"/>
<text class="ss" transform="translate(123.2 532.4639999999999)" font-size="7.4" font-weight="bold" text-anchor="end" stroke="#000" stroke-width="0.25">15</text>
<text class="ss" transform="translate(111.0 593.4) rotate(-90) scale(1.07 1)" font-size="7.7" font-weight="bold" text-anchor="middle" stroke="#000" stroke-width="0.25">% of CD45.2+ CD4+ T lymphocytes</text>
<text class="ss" transform="translate(187.3 669.6) scale(1.08 1)" font-size="6.4" font-weight="bold" text-anchor="middle" stroke="#000" stroke-width="0.25">Foxp3</text>
<line x1="143.60" y1="546.20" x2="169.80" y2="546.20" stroke="#000" stroke-width="1.4"/>
<line x1="143.60" y1="543.90" x2="143.60" y2="548.50" stroke="#000" stroke-width="1.3"/>
<line x1="169.80" y1="543.90" x2="169.80" y2="548.50" stroke="#000" stroke-width="1.3"/>
<text class="ss" transform="translate(156.5 544.0)" font-size="7.8" font-weight="bold" text-anchor="middle" stroke="#000" stroke-width="0.25">*</text>
<line x1="169.80" y1="541.70" x2="203.30" y2="541.70" stroke="#000" stroke-width="1.4"/>
<line x1="169.80" y1="539.40" x2="169.80" y2="544.00" stroke="#000" stroke-width="1.3"/>
<line x1="203.30" y1="539.40" x2="203.30" y2="544.00" stroke="#000" stroke-width="1.3"/>
<text class="ss" transform="translate(186.2 540.7)" font-size="7.8" font-weight="bold" text-anchor="middle" stroke="#000" stroke-width="0.25">*</text>
<line x1="169.80" y1="539.00" x2="169.80" y2="548.50" stroke="#000" stroke-width="1.2"/>
<line x1="295.50" y1="657.50" x2="314.00" y2="657.50" stroke="#333" stroke-width="0.9"/>
<line x1="332.40" y1="567.46" x2="332.40" y2="549.57" stroke="#666" stroke-width="1.2"/>
<line x1="327.60" y1="549.57" x2="337.20" y2="549.57" stroke="#666" stroke-width="1.2"/>
<rect x="323.30" y="567.46" width="18.20" height="91.74" fill="#000" stroke="#000" stroke-width="1.1"/>
<line x1="351.00" y1="657.50" x2="369.50" y2="657.50" stroke="#333" stroke-width="0.9"/>
<line x1="387.55" y1="631.50" x2="387.55" y2="623.43" stroke="#666" stroke-width="1.2"/>
<line x1="382.75" y1="623.43" x2="392.35" y2="623.43" stroke="#666" stroke-width="1.2"/>
<rect x="378.30" y="631.50" width="18.50" height="27.70" fill="url(#hs)" stroke="#000" stroke-width="1.1"/>
<line x1="290.50" y1="543.30" x2="290.50" y2="659.80" stroke="#000" stroke-width="1.2"/>
<line x1="289.90" y1="659.20" x2="401.60" y2="659.20" stroke="#000" stroke-width="1.3"/>
<line x1="287.90" y1="630.35" x2="290.50" y2="630.35" stroke="#000" stroke-width="1.1"/>
<text class="ss" transform="translate(285.4 632.15)" font-size="5.0" font-weight="bold" text-anchor="end" stroke="#000" stroke-width="0.5">0.5</text>
<line x1="287.90" y1="601.50" x2="290.50" y2="601.50" stroke="#000" stroke-width="1.1"/>
<text class="ss" transform="translate(285.4 603.3)" font-size="5.0" font-weight="bold" text-anchor="end" stroke="#000" stroke-width="0.5">1.0</text>
<line x1="287.90" y1="572.65" x2="290.50" y2="572.65" stroke="#000" stroke-width="1.1"/>
<text class="ss" transform="translate(285.4 574.4499999999999)" font-size="5.0" font-weight="bold" text-anchor="end" stroke="#000" stroke-width="0.5">1.5</text>
<line x1="287.90" y1="543.80" x2="290.50" y2="543.80" stroke="#000" stroke-width="1.1"/>
<text class="ss" transform="translate(285.4 545.5999999999999)" font-size="5.0" font-weight="bold" text-anchor="end" stroke="#000" stroke-width="0.5">2.0</text>
<text class="ss" transform="translate(275 600.3) rotate(-90) scale(1.075 1)" font-size="5.5" font-weight="bold" text-anchor="middle" stroke="#000" stroke-width="0.5">Total CD45.2+ CD4+ Foxp3+ Tregs (x 10<tspan font-size="3.6" dy="-2">5</tspan><tspan dy="2">)</tspan></text>
<text class="ss" transform="translate(0 0) scale(1.08 1)" font-size="6.4" font-weight="bold" text-anchor="middle" stroke="#000" stroke-width="0.25"></text>
<line x1="305.40" y1="543.00" x2="332.50" y2="543.00" stroke="#000" stroke-width="1.4"/>
<line x1="305.40" y1="541.50" x2="305.40" y2="544.50" stroke="#000" stroke-width="1.3"/>
<line x1="332.50" y1="541.50" x2="332.50" y2="544.50" stroke="#000" stroke-width="1.3"/>
<text class="ss" transform="translate(319.2 543.6)" font-size="7.8" font-weight="bold" text-anchor="middle" stroke="#000" stroke-width="0.25">*</text>
<line x1="332.50" y1="546.60" x2="358.30" y2="546.60" stroke="#000" stroke-width="1.4"/>
<line x1="332.50" y1="545.10" x2="332.50" y2="548.10" stroke="#000" stroke-width="1.3"/>
<line x1="358.30" y1="545.10" x2="358.30" y2="548.10" stroke="#000" stroke-width="1.3"/>
<text class="ss" transform="translate(344.8 546.8)" font-size="7.8" font-weight="bold" text-anchor="middle" stroke="#000" stroke-width="0.25">*</text>
<line x1="332.50" y1="548.20" x2="383.00" y2="548.20" stroke="#000" stroke-width="1.4"/>
<line x1="332.50" y1="546.70" x2="332.50" y2="549.70" stroke="#000" stroke-width="1.3"/>
<line x1="383.00" y1="546.70" x2="383.00" y2="549.70" stroke="#000" stroke-width="1.3"/>
<text class="ss" transform="translate(366 548.8000000000001)" font-size="7.8" font-weight="bold" text-anchor="middle" stroke="#000" stroke-width="0.25">*</text>
<text class="ss" transform="translate(384 519.8) scale(1.03 1)" font-size="9" font-weight="bold" text-anchor="start" stroke="#000" stroke-width="0.25"><tspan font-size="7" dy="-2.5">*</tspan><tspan dy="2.5" dx="1.6">p &lt; 0.05</tspan></text>
<text class="ss" transform="translate(384 672.2) scale(1.03 1)" font-size="9" font-weight="bold" text-anchor="start" stroke="#000" stroke-width="0.25"><tspan font-size="7" dy="-2.5">*</tspan><tspan dy="2.5" dx="1.6">p &lt; 0.05</tspan></text>
<rect x="448.2" y="489.00" width="8.4" height="6.2" fill="#fff" stroke="#000" stroke-width="1.4"/>
<text class="ss" transform="translate(461.7 495.0)" font-size="8.9" font-weight="bold" text-anchor="start" stroke="#000" stroke-width="0.25">Control</text>
<rect x="448.2" y="506.70" width="8.4" height="6.2" fill="#000" stroke="#000" stroke-width="1.4"/>
<text class="ss" transform="translate(461.7 512.7)" font-size="8.9" font-weight="bold" text-anchor="start" stroke="#000" stroke-width="0.25">PTCy</text>
<rect x="448.2" y="524.40" width="8.4" height="6.2" fill="#fff" stroke="#000" stroke-width="1.4"/>
<line x1="451.00" y1="524.40" x2="451.00" y2="530.60" stroke="#000" stroke-width="1.2"/>
<line x1="453.80" y1="524.40" x2="453.80" y2="530.60" stroke="#000" stroke-width="1.2"/>
<text class="ss" transform="translate(461.7 530.4)" font-size="8.9" font-weight="bold" text-anchor="start" stroke="#000" stroke-width="0.25">DT</text>
<rect x="448.2" y="542.10" width="8.4" height="6.2" fill="#fff" stroke="#000" stroke-width="1.4"/>
<line x1="448.20" y1="545.20" x2="456.60" y2="545.20" stroke="#000" stroke-width="1.5"/>
<line x1="448.20" y1="547.80" x2="456.60" y2="547.80" stroke="#000" stroke-width="1.6"/>
<text class="ss" transform="translate(461.7 548.1) scale(1.055 1)" font-size="8.9" font-weight="bold" text-anchor="start" stroke="#000" stroke-width="0.25">DT + PTCy</text>
</svg>
</body>
</html>
